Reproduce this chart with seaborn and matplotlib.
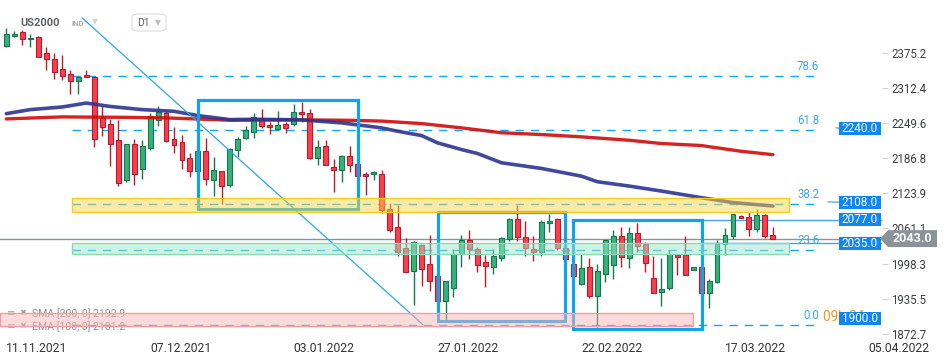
import numpy as np
import pandas as pd
import matplotlib
matplotlib.use("Agg")
import matplotlib.pyplot as plt
import matplotlib.transforms as mtransforms
from matplotlib.patches import Rectangle, Polygon, FancyBboxPatch
import seaborn as sns

# === US2000 daily candles ===
opens = [2387.7, 2405.5, 2412.6, 2399.1, 2402.6, 2374.2, 2363.5, 2345.7, 2336.8, 2323.7,
         2334.3, 2331.5, 2258.2, 2247.9, 2219.4, 2147.5, 2212.3, 2167.8, 2205.2, 2255.0,
         2267.4, 2221.2, 2215.8, 2187.4, 2163.9, 2199.8, 2147.9, 2164.3, 2139.4, 2201.6,
         2223.0, 2233.3, 2258.2, 2246.1, 2239.0, 2247.9, 2247.9, 2269.2, 2267.4, 2187.4,
         2208.7, 2171.4, 2166.0, 2190.9, 2176.7, 2158.9, 2158.9, 2158.9, 2096.7, 2062.9,
         2025.5, 1985.6, 2030.8, 1997.0, 1975.7, 1932.3, 1954.3, 2014.8, 2040.3, 2024.2,
         2000.6, 1992.8, 2008.8, 2042.0, 2078.9, 2045.1, 2024.2, 2018.4, 2070.0, 2077.6,
         2026.6, 1997.0, 1962.0, 1991.7, 1941.2, 1979.8, 1996.3, 2047.9, 2007.7, 2052.2,
         2032.6, 1972.1, 1947.2, 1954.3, 2013.0, 2013.0, 1986.4, 1991.7, 1945.4, 1965.0,
         2032.6, 2046.8, 2084.2, 2082.4, 2059.3, 2086.0, 2048.6]
highs = [2418.7, 2414.4, 2415.6, 2408.5, 2405.0, 2384.9, 2374.2, 2371.2, 2344.5, 2332.6,
         2344.5, 2331.5, 2279.2, 2256.8, 2255.5, 2212.3, 2221.2, 2219.4, 2267.4, 2279.2,
         2270.3, 2242.5, 2227.1, 2195.0, 2202.2, 2223.0, 2189.2, 2164.3, 2205.2, 2224.7,
         2244.3, 2268.0, 2274.7, 2252.0, 2271.2, 2252.0, 2283.6, 2287.5, 2274.7, 2219.6,
         2218.2, 2184.4, 2192.7, 2207.5, 2180.8, 2162.5, 2164.3, 2164.8, 2107.3, 2102.5,
         2043.3, 2039.0, 2031.9, 2049.2, 1976.8, 1966.8, 2024.2, 2049.2, 2058.1, 2027.8,
         2013.6, 2024.2, 2045.1, 2080.0, 2102.5, 2074.6, 2046.8, 2075.8, 2086.5, 2079.4,
         2031.4, 2001.1, 2015.4, 2007.7, 1997.0, 2040.3, 2058.1, 2062.9, 2064.6, 2070.5,
         2037.2, 2011.3, 2007.7, 2021.9, 2013.0, 2046.8, 1991.7, 1993.0, 1970.9, 2040.8,
         2061.1, 2087.8, 2085.6, 2090.6, 2096.7, 2087.8, 2062.9]
lows = [2384.9, 2402.6, 2388.9, 2384.9, 2366.4, 2344.5, 2328.5, 2325.4, 2301.2, 2301.2,
        2330.8, 2206.2, 2225.8, 2172.4, 2136.9, 2143.4, 2138.6, 2150.0, 2200.9, 2243.6,
        2215.1, 2196.3, 2167.1, 2152.9, 2161.2, 2138.6, 2119.1, 2104.3, 2135.8, 2189.2,
        2221.2, 2223.0, 2240.4, 2229.4, 2237.7, 2231.5, 2244.0, 2250.7, 2185.6, 2174.6,
        2174.2, 2126.2, 2144.0, 2161.8, 2152.3, 2120.8, 2148.2, 2089.5, 2055.0, 2011.3,
        1982.8, 1925.2, 1959.0, 1950.1, 1923.4, 1893.8, 1939.4, 1992.8, 2006.5, 1983.9,
        1957.2, 1979.8, 2003.4, 2039.0, 2039.0, 2011.3, 2002.4, 2011.3, 2054.0, 2022.5,
        2002.9, 1976.2, 1960.2, 1937.6, 1884.9, 1965.0, 1970.9, 1991.7, 1990.4, 2018.4,
        1982.8, 1945.4, 1923.4, 1951.8, 1978.5, 1977.5, 1986.4, 1944.0, 1918.8, 1963.2,
        2013.0, 2042.0, 2080.3, 2047.9, 2054.0, 2043.8, 2043.0]
closes = [2408.5, 2408.0, 2399.1, 2401.9, 2368.1, 2363.5, 2340.4, 2332.6, 2323.7, 2331.5,
          2330.8, 2221.2, 2242.5, 2212.3, 2142.9, 2212.3, 2158.9, 2208.7, 2261.7, 2268.9,
          2217.6, 2210.2, 2183.8, 2163.9, 2199.5, 2150.0, 2166.0, 2137.6, 2203.4, 2221.2,
          2237.2, 2260.3, 2244.0, 2242.5, 2246.1, 2240.8, 2269.2, 2265.7, 2187.4, 2207.0,
          2174.9, 2166.0, 2190.9, 2174.9, 2155.4, 2155.4, 2162.5, 2094.9, 2058.6, 2018.4,
          1982.8, 2036.2, 1988.1, 1967.9, 1932.3, 1966.8, 2014.8, 2040.8, 2024.2, 1996.3,
          1994.5, 2011.3, 2043.3, 2078.9, 2045.1, 2025.5, 2018.4, 2071.8, 2074.1, 2026.6,
          2006.5, 1976.8, 1989.9, 1940.1, 1984.6, 2040.3, 2046.8, 2009.5, 2052.2, 2030.1,
          1998.8, 1945.4, 1952.6, 2014.8, 2009.5, 1977.5, 1991.7, 1945.4, 1966.8, 2034.4,
          2048.6, 2087.8, 2080.6, 2059.3, 2086.0, 2046.8, 2043.0]

# moving averages (candle index, value)
sma_idx = [0, 7, 15, 20, 24, 28, 31, 37, 43, 47, 52, 57, 62, 67, 72, 78, 82, 87, 92, 96]
sma_val = [2256.7, 2260.3, 2259.5, 2258.5, 2256.5, 2254.3, 2254.6, 2255.0, 2254.2, 2252.8,
           2248.4, 2240.7, 2232.0, 2228.8, 2224.7, 2218.6, 2212.8, 2209.2, 2199.0, 2192.9]
ema_idx = [0, 3, 7, 10, 13, 17, 21, 24, 28, 31, 37, 42, 47, 49, 52, 54, 57, 59, 62, 67,
           72, 74, 78, 82, 87, 91, 96]
ema_val = [2266.1, 2273.3, 2278.0, 2285.0, 2279.0, 2273.3, 2270.3, 2262.6, 2255.5, 2256.0,
           2255.0, 2249.6, 2240.7, 2234.7, 2227.0, 2214.0, 2202.0, 2195.0, 2178.4, 2168.3,
           2154.6, 2144.6, 2136.8, 2128.0, 2116.2, 2107.3, 2101.2]

date_ticks = [0, 18, 36, 54, 72, 90, 108]
date_labels = ['11.11.2021', '07.12.2021', '03.01.2022', '27.01.2022',
               '22.02.2022', '17.03.2022', '05.04.2022']
price_ticks = [2375.2, 2312.4, 2249.6, 2186.8, 2123.9, 2061.1, 1998.3, 1935.5, 1872.7]

fib_labels = ['0.0', '23.6', '38.2', '61.8', '78.6']
fib_prices = [1889.0, 2022.4, 2104.3, 2237.7, 2332.6]

level_prices = [2240.0, 2108.0, 2077.0, 2035.0, 1900.0]
last_price = 2043.0
sma_last = 2192.9
ema_last = 2101.2

# === style ===
sns.set_style("white")
plt.rcParams['font.family'] = ['Roboto', 'DejaVu Sans']

fig = plt.figure(figsize=(9.5, 3.6), dpi=100)
ax = fig.add_axes([0, 1 - 334 / 360, 882 / 950, 334 / 360])
for sp in ax.spines.values():
    sp.set_visible(False)

blend = mtransforms.blended_transform_factory(ax.transAxes, ax.transData)
px = 1.779  # price units per pixel

# candles
o, h, l, c = map(np.array, (opens, highs, lows, closes))
x = np.arange(len(o))
up = c >= o
fill = np.where(up, '#35b27c', '#fb3e4e')
edge = np.where(up, '#15774a', '#b91b2c')
ax.vlines(x, l, h, colors=edge, lw=1.0, zorder=3)
ax.bar(x, np.maximum(np.abs(c - o), 1.6), bottom=np.minimum(o, c), width=0.62,
       color=fill, edgecolor=edge, linewidth=0.8, zorder=3.5)

# moving averages
sma_df = pd.DataFrame({'idx': sma_idx, 'val': sma_val})
ema_df = pd.DataFrame({'idx': ema_idx, 'val': ema_val})
sns.lineplot(data=sma_df, x='idx', y='val', ax=ax, color='#d10a0a', lw=2.4,
             alpha=0.9, zorder=4, legend=False)
sns.lineplot(data=ema_df, x='idx', y='val', ax=ax, color='#2b3591', lw=2.6,
             alpha=0.9, zorder=4, legend=False)
ax.set_xlabel('')
ax.set_ylabel('')

# trend line
ax.plot([9.5, 52.2], [2437.0, 1889.0], color='#2aa6e8', lw=0.9, zorder=4)

# fibonacci levels
for lab, p in zip(fib_labels, fib_prices):
    ax.plot([8.2, 101.5], [p, p], color='#12a5f0', lw=1.0, ls=(0, (6, 5)), zorder=2.5)
    ax.text(101.8, p + 9.5 * px, lab, ha='right', va='center', color='#38aaef',
            fontsize=8.3, zorder=7)

# horizontal lines
ax.plot([-1, 112], [last_price] * 2, color='#8a939a', lw=1.0, zorder=2, clip_on=False)
ax.plot([87.3, 112], [2077.0] * 2, color='#4aa2ea', lw=1.0, zorder=2)
ax.plot([87.3, 112], [2035.0] * 2, color='#4aa2ea', lw=1.0, zorder=2)
ax.plot([102.9, 104.3], [2108.6, 2108.0], color='#4aa2ea', lw=0.9, zorder=2)
ax.plot([103.9, 104.3], [2240.8, 2240.0], color='#4aa2ea', lw=0.9, zorder=2)

# blue boxes
for x0, x1, y0, y1 in [(24.0, 44.05, 2095.4, 2291.1),
                       (54.1, 69.97, 1896.2, 2090.1),
                       (71.0, 87.1, 1881.9, 2075.8)]:
    ax.add_patch(Rectangle((x0, y0), x1 - x0, y1 - y0, fill=False,
                           ec='#0ea3ec', lw=2.3, zorder=4.5))

# zones
for x0, x1, y0, y1, fc, ec in [(8.2, 98.0, 2091.3, 2116.2, '#fbd64a', '#f4cc1a'),
                               (8.2, 98.0, 2015.9, 2034.9, '#9fe8c9', '#84dcb9'),
                               (-0.8, 86.0, 1886.7, 1909.9, '#f9b6bb', '#f29ea3')]:
    ax.add_patch(Rectangle((x0, y0), x1 - x0, y1 - y0, fc=fc, ec='none',
                           alpha=0.5, zorder=5))
    ax.add_patch(Rectangle((x0, y0), x1 - x0, y1 - y0, fill=False, ec=ec,
                           lw=1.0, zorder=5.1))

# countdown text
ax.text(823 / 882, 1903.0, '09h 24m', transform=blend, ha='left', va='center',
        color='#f7941d', fontsize=9.8, zorder=6)

# level tags
for p in level_prices:
    ax.add_patch(Rectangle((839 / 882, p - 6.5 * px), 41.5 / 882, 13 * px,
                           transform=blend, fc='#0f86f2', ec='none', zorder=7,
                           clip_on=False))
    ax.text(860 / 882, p, f'{p:.1f}', transform=blend, ha='center', va='center',
            color='white', fontsize=8.5, zorder=8)

# last price tag
hh = 8.5 * px
ax.add_patch(Polygon([(880 / 882, last_price), (888 / 882, last_price + hh),
                      (937 / 882, last_price + hh), (937 / 882, last_price - hh),
                      (888 / 882, last_price - hh)], closed=True, transform=blend,
                     fc='#8a9399', ec='none', zorder=9, clip_on=False))
ax.text(912.5 / 882, last_price, f'{last_price:.1f}', transform=blend, ha='center',
        va='center', color='white', fontsize=9, fontweight='bold', zorder=10,
        clip_on=False)

# legend of indicators (under the pink zone)
ax.text(32 / 950, 1 - 314 / 360, f'SMA [200, 0] {sma_last}', transform=fig.transFigure,
        ha='left', va='center', color='#8d9297', fontsize=7.6, zorder=4.8)
ax.text(32 / 950, 1 - 327 / 360, f'EMA [100, 0] {ema_last}', transform=fig.transFigure,
        ha='left', va='center', color='#8d9297', fontsize=7.6, zorder=4.8)
for yy in (313, 326):
    ax.text(7 / 950, 1 - yy / 360, '≡', transform=fig.transFigure, ha='left',
            va='center', color='#9aa0a6', fontsize=7.5, zorder=4.8,
            family=['DejaVu Sans'])
    ax.text(19 / 950, 1 - yy / 360, '✖', transform=fig.transFigure, ha='left',
            va='center', color='#9aa0a6', fontsize=6, zorder=4.8,
            family=['DejaVu Sans'])

# header
fig.text(20 / 950, 1 - 23 / 360, 'US2000', ha='left', va='center', color='#5f6368',
         fontsize=8, fontweight='bold')
fig.text(71 / 950, 1 - 24 / 360, 'IND', ha='left', va='center', color='#a9afb5',
         fontsize=5.5, fontweight='bold')
fig.text(92 / 950, 1 - 22 / 360, '▼', ha='left', va='center', color='#d0d4d8',
         fontsize=5.5, family=['DejaVu Sans'])
fig.patches.append(FancyBboxPatch((132 / 950, 1 - 31 / 360), 34 / 950, 17 / 360,
                                  boxstyle='round,pad=0,rounding_size=0.008',
                                  transform=fig.transFigure, fc='white',
                                  ec='#dadce0', lw=0.8))
fig.text(137 / 950, 1 - 23 / 360, 'D1', ha='left', va='center', color='#5f6368',
         fontsize=7.5)
fig.text(155 / 950, 1 - 23 / 360, '▼', ha='left', va='center', color='#b9bdc1',
         fontsize=5.5, family=['DejaVu Sans'])

# axes
ax.set_xlim(-0.79, 109.66)
ax.set_ylim(1874.8, 2469.0)
ax.set_xticks(date_ticks)
ax.set_xticklabels(date_labels, ha='left')
ax.tick_params(axis='x', length=5, width=0.8, color='#d3d3d3', pad=0.5,
               labelsize=8.7, labelcolor='#333333')
ax.yaxis.tick_right()
ax.set_yticks(price_ticks)
ax.set_yticklabels([f'{v:.1f}' for v in price_ticks])
ax.tick_params(axis='y', length=4, width=0.8, color='#d3d3d3', pad=2.5,
               labelsize=8.3, labelcolor='#3c4043')
ax.grid(False)

fig.savefig('out.png', dpi=100)
